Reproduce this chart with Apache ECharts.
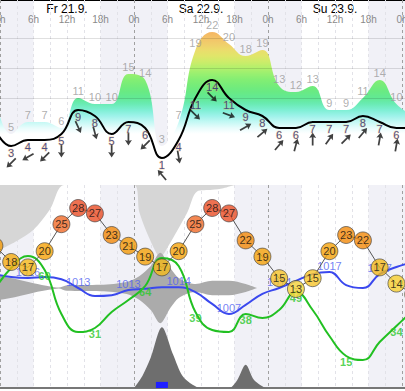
<!DOCTYPE html>
<html><head><meta charset="utf-8">
<script src="https://cdn.jsdelivr.net/npm/echarts@6/dist/echarts.min.js"></script>
<style>html,body{margin:0;padding:0;background:#fff}#c{width:405px;height:391px}</style>
</head><body><div id="c"></div>
<script>
// ---------- data ----------
const hours       = [-1,2,5,8,11,14,17,20,23,26,29,32,35,38,41,44,47,50,53,56,59,62,65,68,71,74];
const windSpeed   = [6,3,4,4,5,9,8,5,7,6,1,4,11,14,11,9,8,6,6,7,7,7,8,7,6,6];
const windGust    = [12,5,7,7,6,11,10,10,15,14,3,7,19,22,20,18,19,13,12,13,9,9,11,14,10,8];
const windDir     = [225,225,240,225,180,155,165,180,180,225,320,170,135,135,110,60,50,40,15,0,35,45,40,10,10,10];
const temperature = [21,18,17,20,25,28,27,23,21,19,17,20,25,28,27,22,19,15,13,15,20,23,22,17,14,12];
const pressure    = [1017.3,1016.6,1016.4,1016.6,1016.1,1014.0,1012.1,1012.3,1013.5,1013.8,1014.2,1014.2,1013.0,1010.2,1007.8,1010.0,1012.6,1014.0,1015.7,1017.3,1017.8,1014.7,1014.0,1017.3,1019.0,1020.2];
const humidity    = [50,61,67,60,38,29,31,39,45,52,66,62,39,30,29,38,36,40,49,40,27,17,15,24,32,40];

const pressureLabelT = [5,14,23,32,41,50,59,68];
const pressureLabels = [1016,1013,1013,1014,1007,1014,1017,1017];
const humidityLabelT = [8,17,26,35,44,53,62,71];
const humidityLabels = [60,31,64,39,38,49,15,34];

const highCloudT = [0,3,6,9,11.5,24,25,27.5,28.7,30,33.5,35.3,38,40,42];
const highCloud  = [81,70,56,30,0,0,35,78,90,78,35,8,6,4,0];
const midCloudT  = [0,3,6,9,10.5,12,18,22.7,25,27,28.7,30.5,32,34,35,38,41,44,46];
const midCloud   = [30,22,12,4,1,7,8,15,30,55,88,50,25,12,10,18,18,10,0];
const lowCloudT  = [24,25.5,27,29,31,32.7,34.5,36,41,42.5,44,45.5,47.5];
const lowCloud   = [0,15,38,76,42,15,4,0,0,10,29,10,0];
const precipT    = [29];
const precip     = [0.3];

const dayLabels  = ['Fr 21.9.','Sa 22.9.','Su 23.9.'];
const dayCenters = [12,36,60];
const nightStart = [-6,18,42,66];
const nightEnd   = [6,30,54,78];
const windGridValues = [11,16,21];

// ---------- chart ----------
const XMAX = 405*24/134;
const pairs = (xs, ys) => xs.map((x,i)=>[x, ys[i]]);
const nightAreas = nightStart.map((s,i)=>[{xAxis:Math.max(s,0)},{xAxis:Math.min(nightEnd[i],XMAX)}]);
const splitColors = ['#a0a0a0'].concat(Array(7).fill('#e2e2e8'));
const FONT = '"Liberation Sans", Arial, sans-serif';

function tempColor(t){
  const th=[[13,'#f8d63a'],[14,'#f7cf30'],[16,'#f6c42a'],[17,'#f5ba1a'],[18,'#f5ad12'],[20,'#f5a20a'],[21,'#f49a08'],[23,'#f28a0a'],[25,'#f06a28'],[99,'#ea4e26']];
  for(const [v,c] of th){ if(t<=v) return c; }
  return '#ea4e26';
}

const chart = echarts.init(document.getElementById('c'), null, {renderer:'svg', width:405, height:391});
const splitAxisCommon = {type:'value', min:0, max:XMAX, interval:3, z:1,
  axisTick:{show:false}, axisLabel:{show:false},
  splitLine:{show:true, lineStyle:{color:splitColors, type:[3,3], width:1}}};

const option = {
  animation:false,
  backgroundColor:'#ffffff',
  textStyle:{fontFamily:FONT},
  grid:[
    {left:0,right:0,top:0,height:185,containLabel:false,outerBoundsMode:'none'},
    {left:0,right:0,top:185,height:203,containLabel:false,outerBoundsMode:'none'}
  ],
  visualMap:[{
    type:'continuous', show:false, seriesIndex:1, dimension:1, min:0, max:24,
    inRange:{color:['#ffffff','#ffffff','#ffffff','#ffffff','#ffffff','#ffffff','#e8fcfc','#c4f8f4','#9ef2ea','#7eefd4','#6aebb4','#62e994','#68ea84','#74ec7a','#82ee74','#98f070','#b2f06c','#ccec6a','#e0e66a','#ebdc6c','#f0ce6c','#f3c268','#f5b664','#f6aa60','#f6a05c']},
    outOfRange:{color:['#ffffff']}
  }],
  xAxis:[
    {gridIndex:0, type:'value', position:'top', min:0, max:XMAX, interval:6,
     axisLine:{show:false,onZero:false}, axisTick:{show:false}, splitLine:{show:false},
     axisLabel:{inside:true, margin:14, color:'#8a8a8a', fontSize:10, fontFamily:FONT, formatter:v=>(v%24)+'h'}},
    {gridIndex:0, type:'value', position:'top', min:0, max:XMAX, interval:12,
     axisLine:{show:true,onZero:false,lineStyle:{color:'#000',width:2}}, axisTick:{show:false}, splitLine:{show:false},
     axisLabel:{inside:true, margin:3, color:'#000', fontSize:12, fontFamily:FONT,
       formatter:v=>{const i=dayCenters.indexOf(v); return i>=0?dayLabels[i]:'';}}},
    Object.assign({gridIndex:0, position:'bottom', axisLine:{show:false,onZero:false}}, splitAxisCommon),
    Object.assign({gridIndex:1, position:'bottom', axisLine:{show:true,onZero:false,lineStyle:{color:'#777',width:2}}}, splitAxisCommon)
  ],
  yAxis:[
    {gridIndex:0, type:'value', min:-3.5, max:27.333, show:false},
    {gridIndex:1, type:'value', min:-5.333, max:32.259, show:false},
    {gridIndex:1, type:'value', min:1, max:102.5, show:false},
    {gridIndex:1, type:'value', min:990.19, max:1038.52, show:false},
    {gridIndex:1, type:'value', min:0, max:253.75, inverse:true, show:false},
    {gridIndex:1, type:'value', min:-250, max:257.5, show:false},
    {gridIndex:1, type:'value', min:0, max:253.75, show:false},
    {gridIndex:1, type:'value', min:0, max:10, show:false}
  ],
  series:[
    {type:'line', xAxisIndex:0, yAxisIndex:0, data:[], z:0, silent:true,
     markArea:{silent:true, z:0, itemStyle:{color:'#f1f1f7'}, data:nightAreas}},
    {type:'line', xAxisIndex:0, yAxisIndex:0, data:pairs(hours,windGust), smooth:0.45, symbol:'none',
     lineStyle:{width:0}, areaStyle:{opacity:1, origin:'start'}, z:2, silent:true,
     markLine:{silent:true, symbol:'none', label:{show:false}, lineStyle:{color:'rgba(0,0,0,0.12)', width:1, type:'solid'},
       data:windGridValues.map(v=>({yAxis:v}))}},
    {type:'scatter', xAxisIndex:0, yAxisIndex:0, data:pairs(hours,windGust), symbolSize:1, clip:true,
     itemStyle:{color:'rgba(0,0,0,0)'}, z:4, silent:true,
     label:{show:true, position:'top', distance:1, color:'#9a9a9a', fontSize:11, fontFamily:FONT, formatter:p=>p.value[1]}},
    {type:'line', xAxisIndex:0, yAxisIndex:0, data:pairs(hours,windSpeed), smooth:0.45, symbol:'none',
     lineStyle:{color:'#000', width:2}, z:3, silent:true},
    {type:'scatter', xAxisIndex:0, yAxisIndex:0, data:pairs(hours,windSpeed), symbolSize:1, clip:true,
     itemStyle:{color:'rgba(0,0,0,0)'}, z:4, silent:true,
     label:{show:true, position:'bottom', distance:1, color:'#1c2b80', fontSize:11, fontFamily:FONT,
       textBorderColor:'rgba(245,170,60,0.5)', textBorderWidth:1, formatter:p=>p.value[1]}},
    {type:'scatter', xAxisIndex:0, yAxisIndex:0, data:hours.map((t,i)=>[t,windSpeed[i],windDir[i]]), clip:true,
     symbol:'path://M4,0 L8,6 L5,5.2 L5,14 L3,14 L3,5.2 L0,6 Z', symbolSize:[7,13], symbolOffset:[0,17],
     symbolRotate:v=>-v[2], itemStyle:{color:'#111'}, z:4, silent:true},
    {type:'line', xAxisIndex:3, yAxisIndex:1, data:[], z:0, silent:true,
     markArea:{silent:true, z:0, itemStyle:{color:'#f1f1f7'}, data:nightAreas}},
    {type:'line', xAxisIndex:3, yAxisIndex:4, data:pairs(highCloudT,highCloud), smooth:0.3, symbol:'none',
     lineStyle:{width:0}, areaStyle:{color:'#d6d6d6', opacity:1, origin:'start'}, z:2, silent:true},
    {type:'line', xAxisIndex:3, yAxisIndex:5, data:pairs(midCloudT,midCloud), smooth:0.3, symbol:'none',
     lineStyle:{width:0}, areaStyle:{color:'#ababab', opacity:1, origin:0}, z:2, silent:true},
    {type:'line', xAxisIndex:3, yAxisIndex:5, data:midCloudT.map((t,i)=>[t,-midCloud[i]]), smooth:0.3, symbol:'none',
     lineStyle:{width:0}, areaStyle:{color:'#ababab', opacity:1, origin:0}, z:2, silent:true},
    {type:'line', xAxisIndex:3, yAxisIndex:6, data:pairs(lowCloudT,lowCloud), smooth:0.3, symbol:'none',
     lineStyle:{width:0}, areaStyle:{color:'#6e6e6e', opacity:1, origin:'start'}, z:2, silent:true},
    {type:'bar', xAxisIndex:3, yAxisIndex:7, data:pairs(precipT,precip), barWidth:12,
     itemStyle:{color:'#1f1fff'}, z:3, silent:true},
    {type:'line', xAxisIndex:3, yAxisIndex:3, data:pairs(hours,pressure), smooth:0.45, symbol:'none',
     lineStyle:{color:'#3a48ee', width:2}, z:3, silent:true},
    {type:'scatter', xAxisIndex:3, yAxisIndex:3, data:pressureLabelT.map(t=>[t,pressure[hours.indexOf(t)]]),
     symbolSize:1, itemStyle:{color:'rgba(0,0,0,0)'}, z:4, silent:true,
     label:{show:true, position:'top', distance:0, color:'#4f5ff2', fontSize:11, fontFamily:FONT,
       formatter:p=>pressureLabels[p.dataIndex]}},
    {type:'line', xAxisIndex:3, yAxisIndex:2, data:pairs(hours,humidity), smooth:0.45, symbol:'none',
     lineStyle:{color:'#22c022', width:2}, z:3, silent:true},
    {type:'scatter', xAxisIndex:3, yAxisIndex:2, data:humidityLabelT.map(t=>[t,humidity[hours.indexOf(t)]]),
     symbolSize:1, itemStyle:{color:'rgba(0,0,0,0)'}, z:4, silent:true,
     label:{show:true, position:'bottom', distance:0, color:'#2cc82c', fontSize:11, fontWeight:'bold', fontFamily:FONT,
       formatter:p=>humidityLabels[p.dataIndex]}},
    {type:'line', xAxisIndex:3, yAxisIndex:1, data:pairs(hours,temperature), symbol:'none',
     lineStyle:{color:'#555', width:1}, z:5, silent:true},
    {type:'scatter', xAxisIndex:3, yAxisIndex:1, data:pairs(hours,temperature), clip:false, symbolSize:17,
     itemStyle:{color:p=>tempColor(p.value[1]), borderColor:'#3a3a3a', borderWidth:0.8}, z:6, silent:true,
     label:{show:true, position:'inside', color:'#111', fontSize:11, fontFamily:FONT, formatter:p=>p.value[1]}}
  ]
};
chart.setOption(option);
</script>
</body></html>
